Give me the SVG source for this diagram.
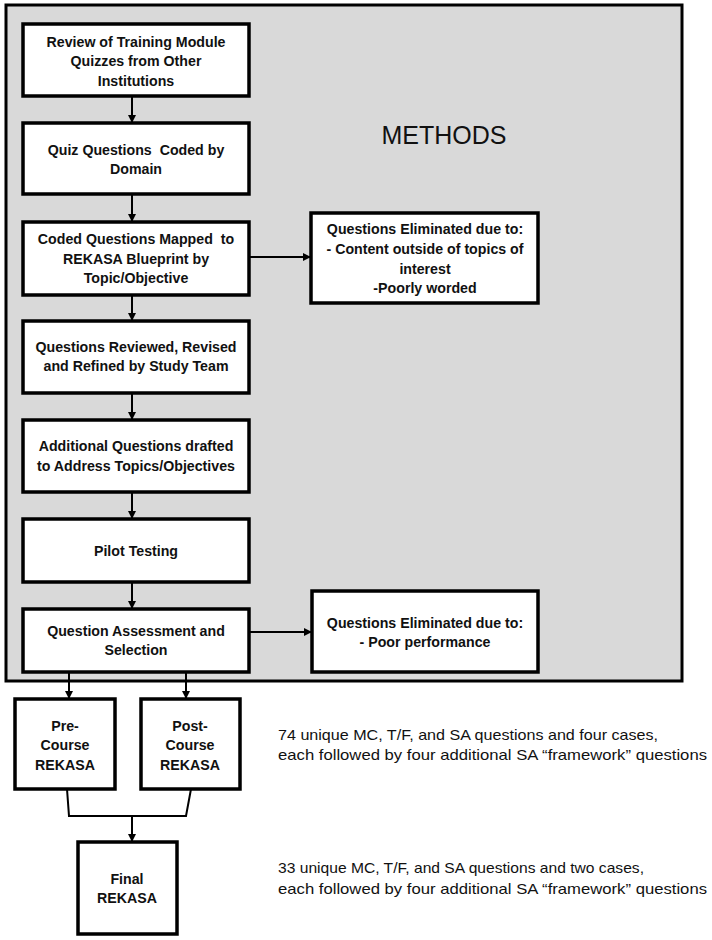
<svg xmlns="http://www.w3.org/2000/svg" width="712" height="940" viewBox="0 0 712 940">
<defs>
<marker id="ah" markerWidth="8" markerHeight="8" refX="8" refY="4" orient="auto" markerUnits="userSpaceOnUse">
<path d="M0,0 L8,4 L0,8 Z" fill="#000"/>
</marker>
<style>
.box{fill:#fff;stroke:#000;stroke-width:3.5}
.t{font-family:"Liberation Sans",Arial,sans-serif;font-weight:bold;font-size:14.2px;text-anchor:middle;fill:#111}
.n{font-family:"Liberation Sans",Arial,sans-serif;font-size:14.5px;fill:#111}
.c{stroke:#000;stroke-width:2;fill:none}
</style>
</defs>
<rect width="712" height="940" fill="#fff"/>
<g id="methods-panel">
<rect x="6" y="5" width="676" height="676" fill="#d9d9d9" stroke="#000" stroke-width="3"/>
<text x="444" y="144" font-family="Liberation Sans,Arial,sans-serif" font-size="25" fill="#111" text-anchor="middle">METHODS</text>
</g>
<g id="connectors">
<line class="c" x1="132" y1="96" x2="132" y2="123" marker-end="url(#ah)"/>
<line class="c" x1="132" y1="194" x2="132" y2="222" marker-end="url(#ah)"/>
<line class="c" x1="132" y1="295" x2="132" y2="321" marker-end="url(#ah)"/>
<line class="c" x1="132" y1="393" x2="132" y2="420" marker-end="url(#ah)"/>
<line class="c" x1="132" y1="492" x2="132" y2="519" marker-end="url(#ah)"/>
<line class="c" x1="132" y1="582" x2="132" y2="609" marker-end="url(#ah)"/>
<line class="c" x1="249" y1="257" x2="311" y2="257" marker-end="url(#ah)"/>
<line class="c" x1="249" y1="632" x2="312" y2="632" marker-end="url(#ah)"/>
<line class="c" x1="69" y1="672" x2="69" y2="699" marker-end="url(#ah)"/>
<line class="c" x1="186" y1="672" x2="186" y2="699" marker-end="url(#ah)"/>
<path class="c" d="M67,789 L69,816 L186,816 L191,789"/>
<line class="c" x1="132" y1="816" x2="132" y2="842" marker-end="url(#ah)"/>
</g>
<g id="review">
<rect class="box" x="23" y="24" width="226" height="72"/>
<text class="t" x="136" y="47">Review of Training Module</text>
<text class="t" x="136" y="66">Quizzes from Other</text>
<text class="t" x="136" y="86">Institutions</text>
</g>
<g id="coded">
<rect class="box" x="23" y="123" width="226" height="71"/>
<text class="t" x="136" y="155" xml:space="preserve">Quiz Questions  Coded by</text>
<text class="t" x="136" y="174">Domain</text>
</g>
<g id="mapped">
<rect class="box" x="23" y="222" width="226" height="73"/>
<text class="t" x="136" y="244" xml:space="preserve">Coded Questions Mapped  to</text>
<text class="t" x="136" y="264">REKASA Blueprint by</text>
<text class="t" x="136" y="283">Topic/Objective</text>
</g>
<g id="reviewed">
<rect class="box" x="23" y="321" width="226" height="72"/>
<text class="t" x="136" y="352">Questions Reviewed, Revised</text>
<text class="t" x="136" y="371">and Refined by Study Team</text>
</g>
<g id="additional">
<rect class="box" x="23" y="420" width="226" height="72"/>
<text class="t" x="136" y="451">Additional Questions drafted</text>
<text class="t" x="136" y="471">to Address Topics/Objectives</text>
</g>
<g id="pilot">
<rect class="box" x="23" y="519" width="226" height="63"/>
<text class="t" x="136" y="556">Pilot Testing</text>
</g>
<g id="assessment">
<rect class="box" x="23" y="609" width="226" height="63"/>
<text class="t" x="136" y="636">Question Assessment and</text>
<text class="t" x="136" y="655">Selection</text>
</g>
<g id="eliminated1">
<rect class="box" x="311" y="213" width="227" height="90"/>
<text class="t" x="425" y="234">Questions Eliminated due to:</text>
<text class="t" x="425" y="254">- Content outside of topics of</text>
<text class="t" x="425" y="274">interest</text>
<text class="t" x="425" y="293">-Poorly worded</text>
</g>
<g id="eliminated2">
<rect class="box" x="312" y="591" width="226" height="81"/>
<text class="t" x="425" y="628">Questions Eliminated due to:</text>
<text class="t" x="425" y="647">- Poor performance</text>
</g>
<g id="pre">
<rect class="box" x="15" y="699" width="100" height="90"/>
<text class="t" x="65" y="731">Pre-</text>
<text class="t" x="65" y="750">Course</text>
<text class="t" x="65" y="770">REKASA</text>
</g>
<g id="post">
<rect class="box" x="141" y="699" width="99" height="90"/>
<text class="t" x="190" y="731">Post-</text>
<text class="t" x="190" y="750">Course</text>
<text class="t" x="190" y="770">REKASA</text>
</g>
<g id="final">
<rect class="box" x="78" y="842" width="99" height="92"/>
<text class="t" x="127" y="884">Final</text>
<text class="t" x="127" y="903">REKASA</text>
</g>
<g id="notes">
<text class="n" x="278" y="740" textLength="380" lengthAdjust="spacingAndGlyphs">74 unique MC, T/F, and SA questions and four cases,</text>
<text class="n" x="278" y="760" textLength="429" lengthAdjust="spacingAndGlyphs">each followed by four additional SA “framework” questions</text>
<text class="n" x="278" y="873" textLength="366" lengthAdjust="spacingAndGlyphs">33 unique MC, T/F, and SA questions and two cases,</text>
<text class="n" x="278" y="894" textLength="429" lengthAdjust="spacingAndGlyphs">each followed by four additional SA “framework” questions</text>
</g>
</svg>
